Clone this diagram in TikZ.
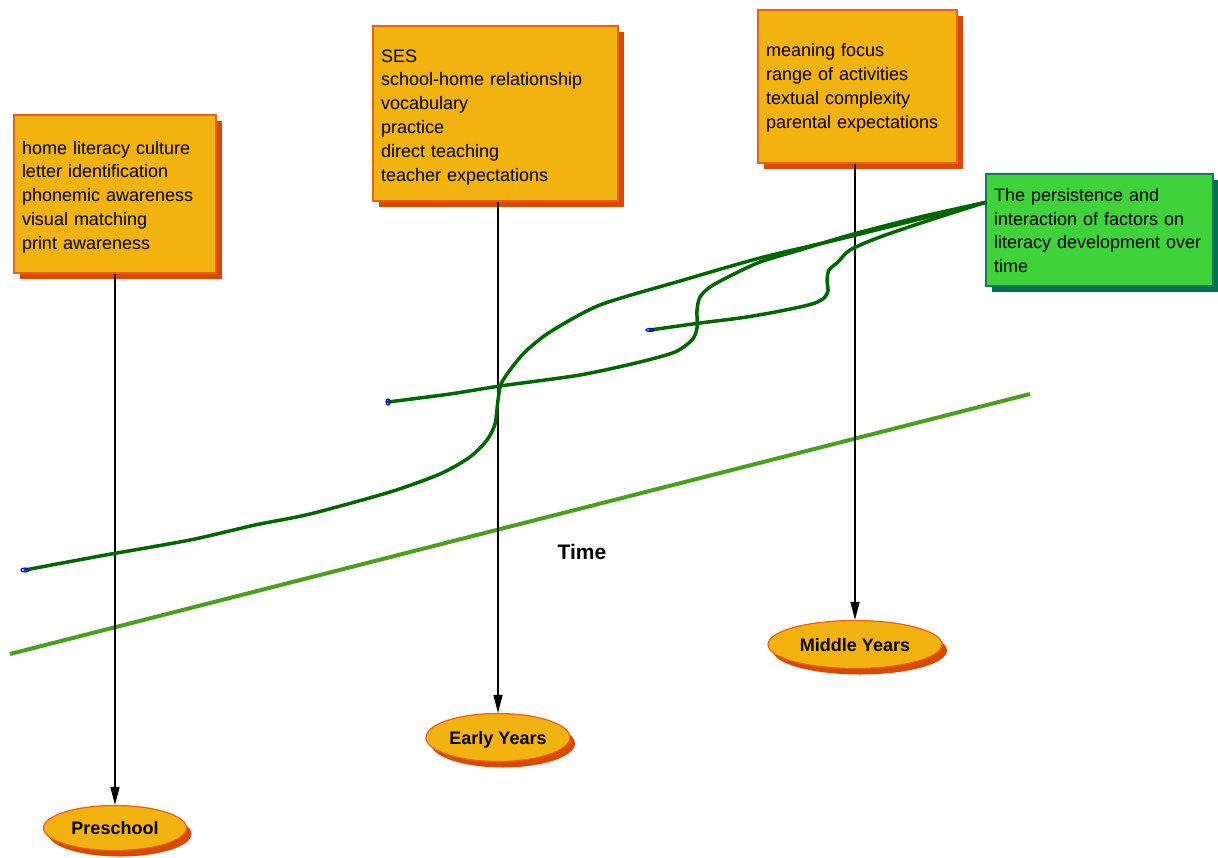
\documentclass[tikz,border=0pt]{standalone}
\usepackage{fontspec}
\setmainfont{Liberation Sans}
\usetikzlibrary{shapes.geometric,shadows,arrows.meta,calc}
\definecolor{boxfill}{HTML}{F2B20F}
\definecolor{boxdraw}{HTML}{E8601C}
\definecolor{boxshadow}{HTML}{D94A00}
\definecolor{gfill}{HTML}{40D23A}
\definecolor{gdraw}{HTML}{107E5E}
\definecolor{gshadow}{HTML}{077050}
\definecolor{curve}{HTML}{006600}
\definecolor{timeline}{HTML}{4AA01C}
\tikzset{
  factorbox/.style={draw=boxdraw, fill=boxfill, line width=1.2pt, rectangle, inner xsep=8pt, inner ysep=0pt,
    align=left, font=\fontsize{18}{23.8}\selectfont,
    drop shadow={shadow xshift=6pt, shadow yshift=-6pt, fill=boxshadow, opacity=1}},
  stagebox/.style={draw=boxdraw, fill=boxfill, line width=1.2pt, ellipse, inner sep=0pt,
    font=\fontsize{18}{22}\selectfont\bfseries, text depth=0pt,
    drop shadow={shadow xshift=5pt, shadow yshift=-6pt, fill=boxshadow, opacity=1}},
  notebox/.style={draw=gdraw, fill=gfill, line width=1.2pt, rectangle, inner xsep=8pt, inner ysep=0pt,
    align=left, font=\fontsize{18}{23.8}\selectfont,
    drop shadow={shadow xshift=6pt, shadow yshift=-6pt, fill=gshadow, opacity=1}},
  link/.style={draw=black, line width=1.5pt, -{Triangle[length=18pt,width=9pt]}},
  flow/.style={draw=curve, line width=3.5pt, line join=round, line cap=round},
  endmark/.style={draw=blue, line width=1.2pt}
}
\begin{document}
\begin{tikzpicture}[x=1pt,y=-1pt]
\useasboundingbox (0,0) rectangle (1218,857);

% time axis
\coordinate (t0) at (10,654);
\coordinate (t1) at (1030,394);
\draw[timeline, line width=4pt] (t0) -- (t1);
\node[font=\fontsize{21}{24}\selectfont\bfseries] (time) at (582,552) {Time};

% factor boxes
\node[factorbox, minimum width=202pt, minimum height=158pt, text width=186pt] (box1) at (115,194)
  {\rule{0pt}{19pt}home literacy culture\\letter identification\\phonemic awareness\\visual matching\\print awareness};
\node[factorbox, minimum width=245pt, minimum height=175pt, text width=229pt] (box2) at (495.5,113.5)
  {\rule{0pt}{20pt}SES\\school-home relationship\\vocabulary\\practice\\direct teaching\\teacher expectations};
\node[factorbox, minimum width=199pt, minimum height=153pt, text width=183pt] (box3) at (857.5,86.5)
  {\rule{0pt}{16pt}meaning focus\\range of activities\\textual complexity\\parental expectations};
\node[notebox, minimum width=227pt, minimum height=112pt, text width=211pt] (note) at (1099.5,230)
  {\rule{0pt}{14pt}The persistence and\\interaction of factors on\\literacy development over\\time};

% stages
\node[stagebox, minimum width=143pt, minimum height=45pt] (pre) at (115,828) {Preschool};
\node[stagebox, minimum width=144pt, minimum height=48pt] (early) at (498,737.5) {Early Years};
\node[stagebox, minimum width=174pt, minimum height=48pt] (mid) at (855,644.5) {Middle Years};

\draw[link] (pre.north |- box1.south) -- (pre.north);
\draw[link] (early.north |- box2.south) -- (early.north);
\draw[link] (mid.north |- box3.south) -- (mid.north);

% development curves
\coordinate (sA) at (25,570);
\coordinate (sB) at (388,402);
\coordinate (sC) at (650,330);
\coordinate (gEnd) at ($(note.north west)+(0,29)$);

\draw[flow] plot[smooth, tension=0.45] coordinates {(sA) (100,556) (190,540) (255,525) (310,514) (390,492) (440,474) (470,457) (487,440) (495,424) (498,400) (501,384) (510,370) (525,352) (550,332) (600,305) (680,281) (760,258) (840,239) (920,219) (gEnd)};
\draw[flow] plot[smooth, tension=0.45] coordinates {(sB) (450,394) (500,386) (580,375) (640,362) (675,352) (692,340) (697,328) (697,310) (700,297) (710,287) (730,276) (760,262) (800,250) (850,235) (920,217) (gEnd)};
\draw[flow] plot[smooth, tension=0.45] coordinates {(sC) (700,323) (740,318) (770,313) (800,307) (815,303) (824,298) (828,291) (827,280) (829,270) (838,262) (850,250) (880,237) (930,220) (gEnd)};

\draw[endmark] (sA) ellipse (4 and 2);
\draw[endmark] (sB) ellipse (2 and 3);
\draw[endmark] (sC) ellipse (4 and 1.5);
\end{tikzpicture}
\end{document}
